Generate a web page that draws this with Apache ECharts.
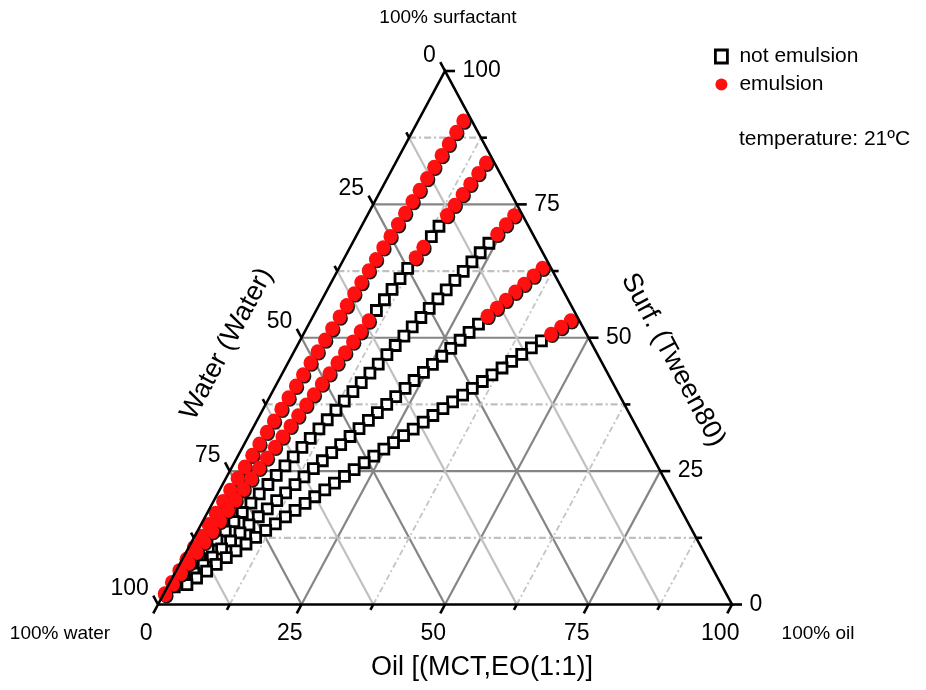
<!DOCTYPE html>
<html>
<head>
<meta charset="utf-8">
<script src="https://cdn.jsdelivr.net/npm/echarts@6/dist/echarts.min.js"></script>
<style>html,body{margin:0;padding:0;background:#fff}#c{width:926px;height:690px}</style>
</head>
<body>
<div id="c"></div>
<script>
// ---------------- data ----------------
const majorTicks = [0, 25, 50, 75, 100];
const minorTicks = [12.5, 37.5, 62.5, 87.5];
const gridMajor = [25, 50, 75];
const oilTickLabels = ['0', '25', '50', '75', '100'];
const surfTickLabels = ['0', '25', '50', '75', '100'];
const waterTickLabels = ['0', '25', '50', '75', '100'];
const seriesNames = ['not emulsion', 'emulsion'];

// surfactant share of the surfactant+oil mixture on each dilution line
const lineSurfShare = [0.92, 0.84, 0.74, 0.64, 0.54];

// water % of every titration point, per line and per result
const line1Emulsion = [1.5, 3.8, 6.2, 8.5, 10.9, 13.2, 15.6, 17.9, 20.3, 22.6, 25.0, 27.3, 29.7, 32.0, 34.4, 36.7, 39.1, 41.4, 43.8, 46.1, 48.5, 50.8, 53.2, 55.5, 57.9, 60.2, 62.6, 64.9, 67.3, 69.6, 72.0, 74.3, 76.7, 79.0, 81.4, 83.7, 86.1, 88.4, 90.8, 93.1, 95.5, 97.8];
const line1NotEmulsion = [];
const line2Emulsion = [1.5, 3.8, 6.2, 8.5, 10.9, 13.2, 20.3, 22.6, 36.7, 39.1, 41.4, 43.8, 46.1, 48.5, 50.8, 53.2, 55.5, 57.9, 60.2, 62.6, 64.9, 67.3, 69.6, 72.0, 74.3, 76.7, 79.0, 81.4, 83.7, 86.1, 88.4, 90.8, 93.1, 95.5, 97.8];
const line2NotEmulsion = [15.6, 17.9, 25.0, 27.3, 29.7, 32.0, 34.4];
const line3Emulsion = [1.5, 3.8, 6.2];
const line3NotEmulsion = [8.5, 10.9, 13.2, 15.6, 17.9, 20.3, 22.6, 25.0, 27.3, 29.7, 32.0, 34.4, 36.7, 39.1, 41.4, 43.8, 46.1, 48.5, 50.8, 53.2, 55.5, 57.9, 60.2, 62.6, 64.9, 67.3, 69.6, 72.0, 74.3, 76.7, 79.0, 81.4, 83.7, 86.1, 88.4, 90.8, 93.1, 95.5];
const line4Emulsion = [1.5, 3.8, 6.2, 8.5, 10.9, 13.2, 15.6];
const line4NotEmulsion = [17.9, 20.3, 22.6, 25.0, 27.3, 29.7, 32.0, 34.4, 36.7, 39.1, 41.4, 43.8, 46.1, 48.5, 50.8, 53.2, 55.5, 57.9, 60.2, 62.6, 64.9, 67.3, 69.6, 72.0, 74.3, 76.7, 79.0, 81.4, 83.7, 86.1, 88.4, 90.8, 93.1];
const line5Emulsion = [1.5, 3.8, 6.2];
const line5NotEmulsion = [8.5, 10.9, 13.2, 15.6, 17.9, 20.3, 22.6, 25.0, 27.3, 29.7, 32.0, 34.4, 36.7, 39.1, 41.4, 43.8, 46.1, 48.5, 50.8, 53.2, 55.5, 57.9, 60.2, 62.6, 64.9, 67.3, 69.6, 72.0, 74.3, 76.7, 79.0, 81.4, 83.7, 86.1, 88.4, 90.8, 93.1];

// ---------------- ternary -> cartesian (data space) ----------------
const FONT = '"Liberation Sans", Arial, sans-serif';
function pt(oil, surf) { return [oil + surf / 2, surf]; }
const Wc = pt(0, 0), Oc = pt(100, 0), Sc = pt(0, 100);

function linePoints(r, waters) {
  return waters.map(w => { const t = 1 - w / 100; return pt(100 * t * (1 - r), 100 * t * r); });
}
const emulsionLists = [line1Emulsion, line2Emulsion, line3Emulsion, line4Emulsion, line5Emulsion];
const notEmulsionLists = [line1NotEmulsion, line2NotEmulsion, line3NotEmulsion, line4NotEmulsion, line5NotEmulsion];
const emulsionData = [], notEmulsionData = [];
lineSurfShare.forEach((r, i) => {
  emulsionData.push(...linePoints(r, emulsionLists[i]));
  notEmulsionData.push(...linePoints(r, notEmulsionLists[i]));
});

function oilLine(v) { return [pt(v, 0), pt(v, 100 - v)]; }
function surfLine(v) { return [pt(0, v), pt(100 - v, v)]; }
function waterLine(v) { return [pt(100 - v, 0), pt(0, 100 - v)]; }

// tick directions (data units per pixel, from the grid size 574 x 533.5 px)
const XPX = 100 / 574, YPX = 100 / 533.5;
const EDGE = Math.hypot(50 / XPX, 100 / YPX);
const bottomDir = [-50 / EDGE, -100 / EDGE];
const leftDir = [-50 / EDGE, 100 / EDGE];
const rightDir = [XPX, 0];
function off(p, d, len) { return [p[0] + d[0] * len, p[1] + d[1] * len]; }
const bottomBase = v => pt(v, 0);
const rightBase = v => pt(100 - v, v);
const leftBase = v => pt(0, 100 - v);

const tickSegs = [];
[[bottomBase, bottomDir], [rightBase, rightDir], [leftBase, leftDir]].forEach(([b, d]) => {
  majorTicks.forEach(v => tickSegs.push({ coords: [b(v), off(b(v), d, 10)] }));
  minorTicks.forEach(v => tickSegs.push({ coords: [b(v), off(b(v), d, 6)] }));
});

function labelData(base, dir, labels) {
  return majorTicks.map((v, i) => ({ value: off(base(v), dir, 10), name: labels[i] }));
}

function linesSeries(data, color, width, type, z) {
  return {
    type: 'lines', coordinateSystem: 'cartesian2d', polyline: true, silent: true, clip: false,
    z: z, lineStyle: { color: color, width: width, type: type, opacity: 1 }, data: data
  };
}
function labelSeries(data, pos, dist, offset) {
  return {
    type: 'scatter', symbolSize: 1, silent: true, clip: false, z: 20,
    itemStyle: { color: 'rgba(0,0,0,0)', opacity: 1 },
    label: { show: true, position: pos, distance: dist, offset: offset, formatter: '{b}',
      fontFamily: FONT, fontSize: 23, color: '#000', opacity: 1 },
    data: data
  };
}

const majorGrid = gridMajor.flatMap(v => [oilLine(v), surfLine(v), waterLine(v)]).map(c => ({ coords: c }));
const minorWater = minorTicks.map(v => ({ coords: waterLine(v) }));
const minorOil = minorTicks.map(v => ({ coords: oilLine(v) }));
const minorSurf = minorTicks.map(v => ({ coords: surfLine(v) }));

const chart = echarts.init(document.getElementById('c'), null, { renderer: 'canvas' });
chart.setOption({
  animation: false,
  backgroundColor: '#fff',
  grid: { left: 158, right: 194, top: 71, bottom: 85.5 },
  xAxis: { type: 'value', min: 0, max: 100, show: false },
  yAxis: { type: 'value', min: 0, max: 100, show: false },
  legend: {
    data: [
      { name: seriesNames[0], icon: 'rect', itemStyle: { color: '#fff', borderColor: '#000', borderWidth: 2.8 } },
      { name: seriesNames[1], icon: 'circle', itemStyle: { color: '#ff0f0f', borderWidth: 0, shadowColor: 'rgba(0,0,0,0)' } }
    ],
    orient: 'vertical', left: 709, top: 41, itemWidth: 12, itemHeight: 13, itemGap: 7,
    selectedMode: false,
    textStyle: { fontFamily: FONT, fontSize: 21, color: '#000', padding: [0, 0, 0, 7] }
  },
  graphic: { elements: [
    { type: 'text', x: 448, y: 18, silent: true, style: { text: '100% surfactant', font: '19px ' + FONT, fill: '#000', align: 'center', verticalAlign: 'middle', textAlign: 'center', textVerticalAlign: 'middle' } },
    { type: 'text', x: 60, y: 634, silent: true, style: { text: '100% water', font: '19px ' + FONT, fill: '#000', align: 'center', verticalAlign: 'middle', textAlign: 'center', textVerticalAlign: 'middle' } },
    { type: 'text', x: 818, y: 634, silent: true, style: { text: '100% oil', font: '19px ' + FONT, fill: '#000', align: 'center', verticalAlign: 'middle', textAlign: 'center', textVerticalAlign: 'middle' } },
    { type: 'text', x: 482, y: 668, silent: true, style: { text: 'Oil [(MCT,EO(1:1)]', font: '27px ' + FONT, fill: '#000', align: 'center', verticalAlign: 'middle', textAlign: 'center', textVerticalAlign: 'middle' } },
    { type: 'text', x: 227, y: 344, rotation: 61.9 * Math.PI / 180, silent: true, style: { text: 'Water (Water)', font: '27px ' + FONT, fill: '#000', align: 'center', verticalAlign: 'middle', textAlign: 'center', textVerticalAlign: 'middle' } },
    { type: 'text', x: 673, y: 360, rotation: -61.9 * Math.PI / 180, silent: true, style: { text: 'Surf. (Tween80)', font: '27px ' + FONT, fill: '#000', align: 'center', verticalAlign: 'middle', textAlign: 'center', textVerticalAlign: 'middle' } },
    { type: 'text', x: 739, y: 139, silent: true, style: { text: 'temperature: 21ºC', font: '21px ' + FONT, fill: '#000', align: 'left', verticalAlign: 'middle', textAlign: 'left', textVerticalAlign: 'middle' } }
  ] },
  series: [
    linesSeries(majorGrid, '#858585', 2.2, 'solid', 1),
    linesSeries(minorWater, '#c0c0c0', 2.2, 'solid', 1),
    linesSeries(minorOil, '#c4c4c4', 1.8, [6, 3, 2, 3], 1),
    linesSeries(minorSurf, '#c0c0c0', 2.2, [7, 3, 2, 3], 1),
    {
      name: seriesNames[0], type: 'scatter', symbol: 'rect', symbolSize: 10, clip: false, z: 5,
      itemStyle: { color: '#ffffff', borderColor: '#000000', borderWidth: 2.8, opacity: 1 },
      data: notEmulsionData
    },
    {
      name: seriesNames[1], type: 'scatter', symbol: 'circle', symbolSize: [14, 15], clip: false, z: 6,
      itemStyle: { color: '#ff0f0f', opacity: 1, shadowColor: 'rgba(0,0,0,0.9)', shadowBlur: 0, shadowOffsetX: 1.3, shadowOffsetY: 1.3 },
      data: emulsionData
    },
    linesSeries([{ coords: [Wc, Oc, Sc, Wc] }], '#000', 2.6, 'solid', 10),
    linesSeries(tickSegs, '#000', 2.6, 'solid', 10),
    labelSeries(labelData(bottomBase, bottomDir, oilTickLabels), 'bottom', 8, [-7, 0]),
    labelSeries(labelData(rightBase, rightDir, surfTickLabels), 'right', 7, [0, 0]),
    labelSeries(labelData(leftBase, leftDir, waterTickLabels), 'left', 4, [0, -7])
  ]
});
</script>
</body>
</html>
